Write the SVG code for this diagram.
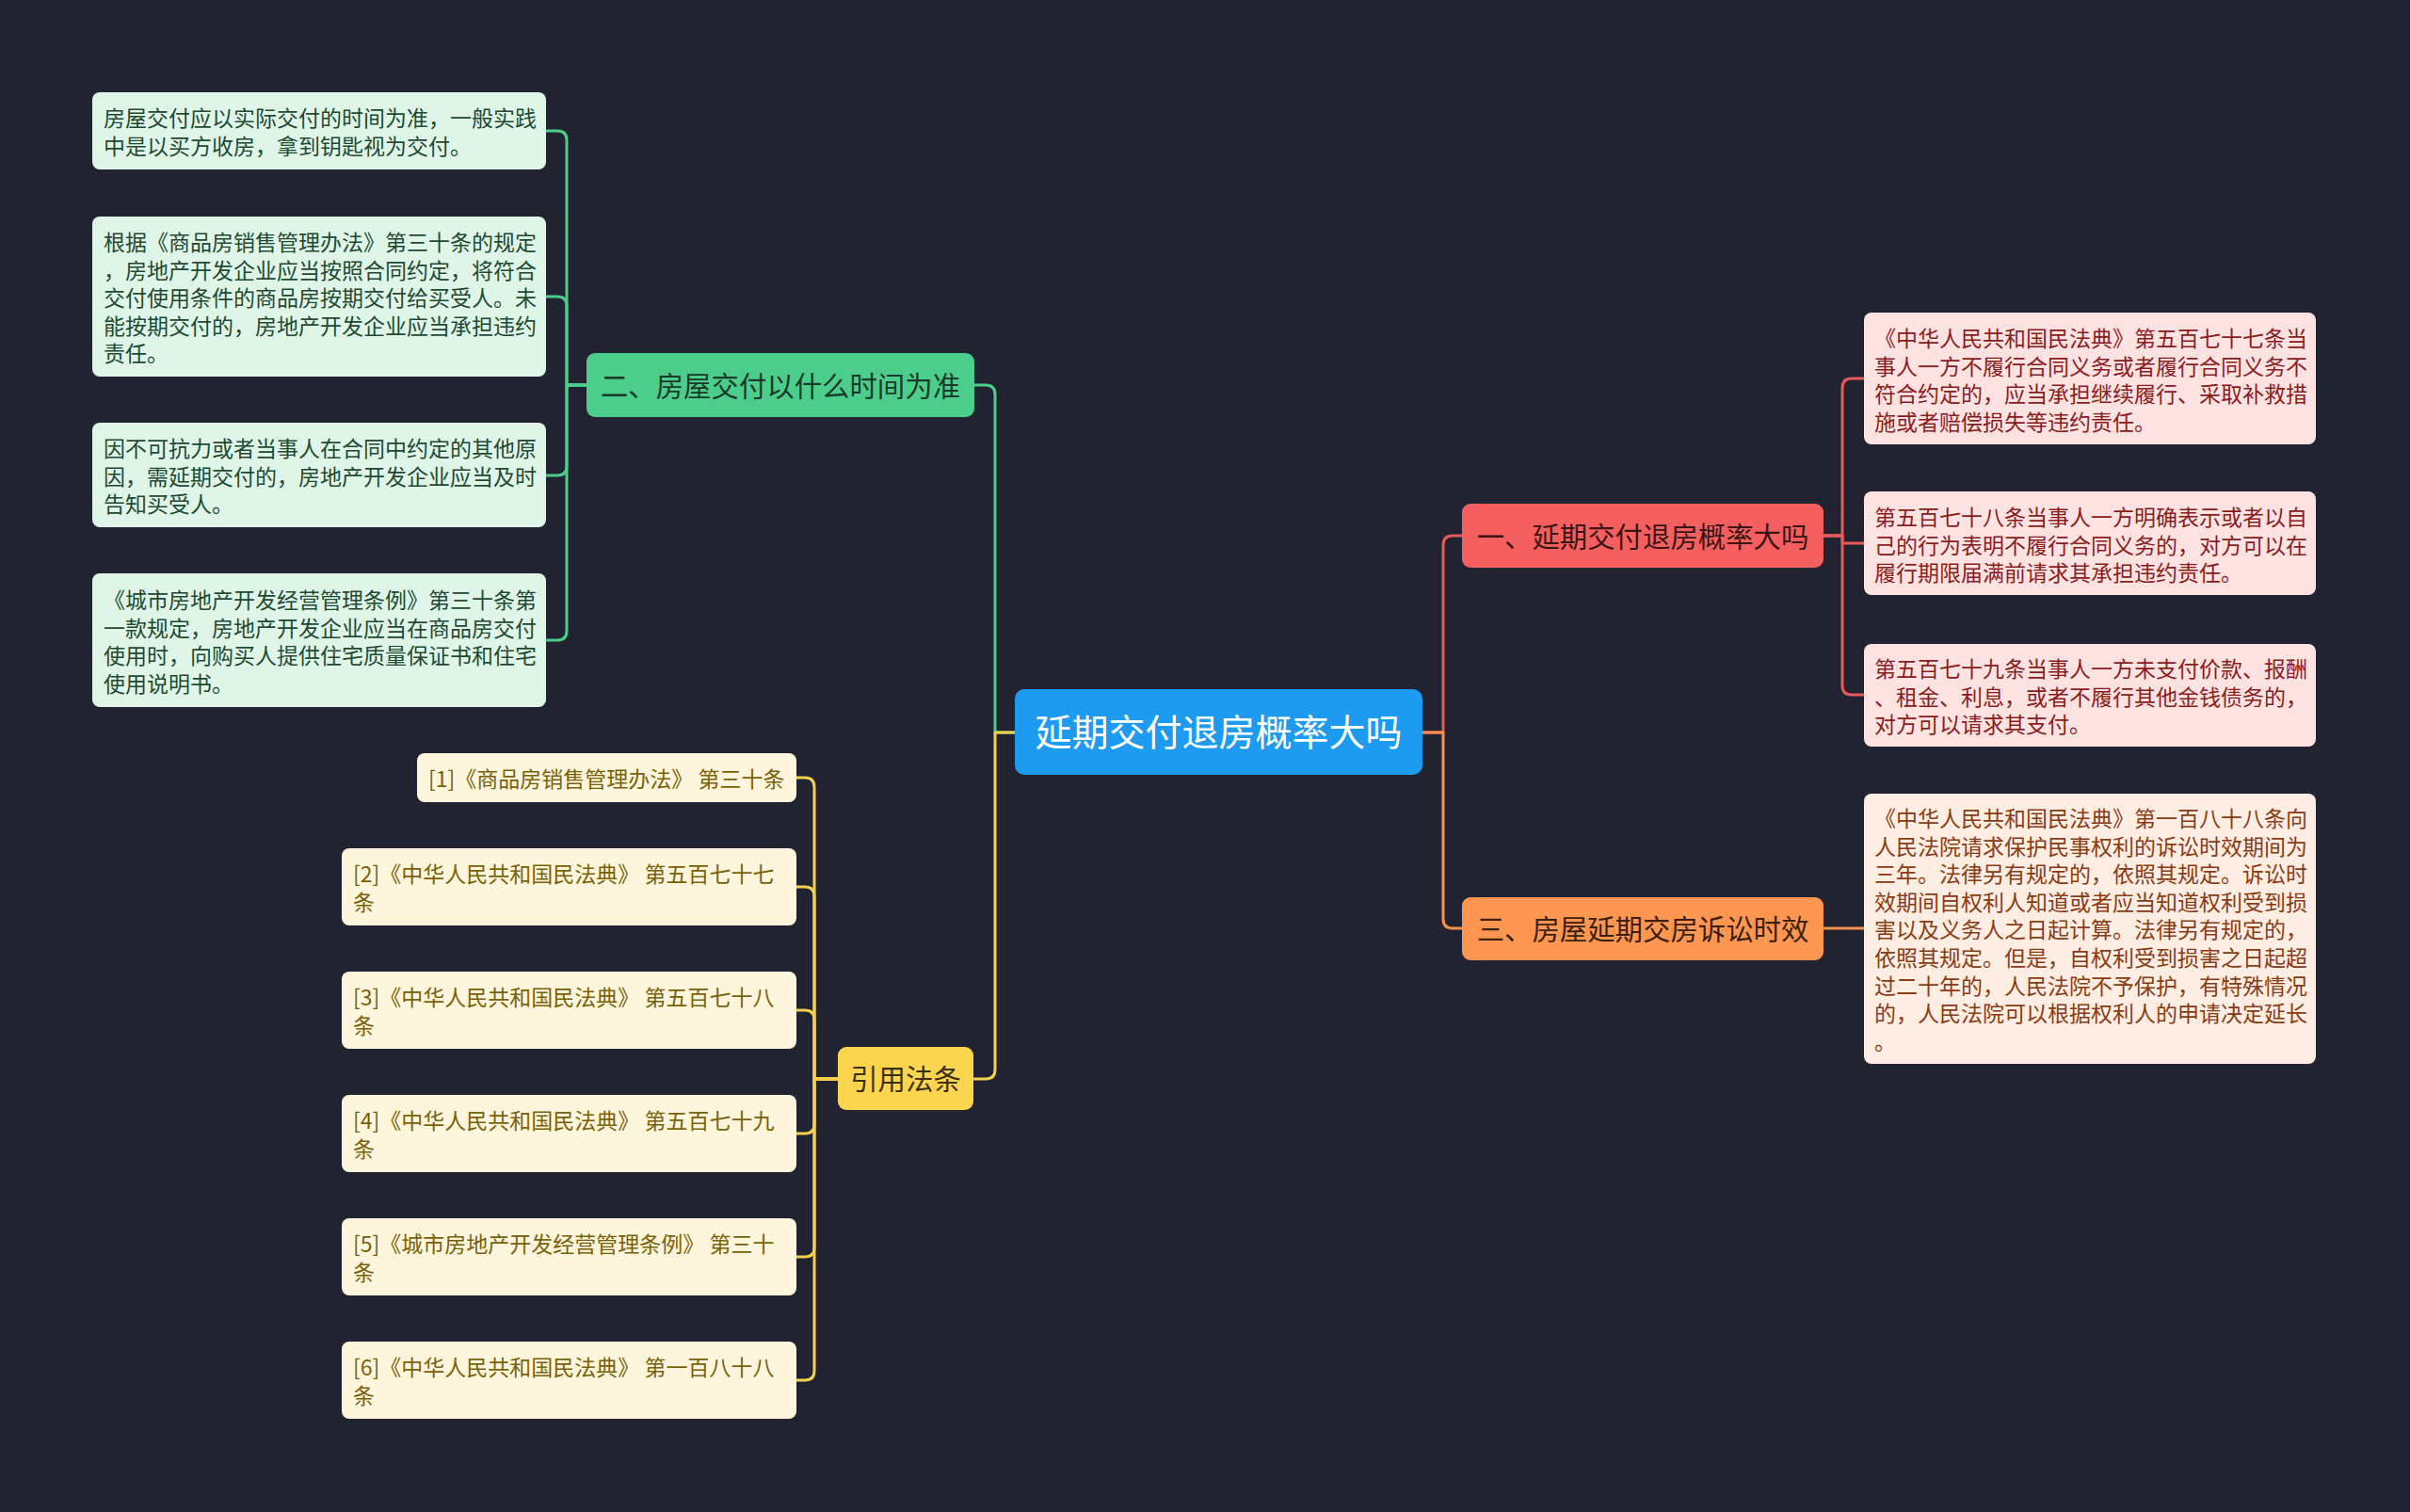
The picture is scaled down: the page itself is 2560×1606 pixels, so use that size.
<svg xmlns="http://www.w3.org/2000/svg" width="2560" height="1606" viewBox="0 0 2560 1606">
<style>
text{font-family:"Noto Sans CJK SC","Noto Sans",sans-serif;}
.leaf{font-size:23px;}
.br{font-size:29.4px;text-anchor:middle;}
.ln{fill:none;stroke-width:3;stroke-linecap:round;stroke-linejoin:round;}
.g{stroke:#4ccd8c;} .y{stroke:#f5d04c;} .r{stroke:#e85a5a;} .o{stroke:#f7924e;}
.gl{fill:#def5e8;} .gt{fill:#1e4a32;}
.rl{fill:#fde2e2;} .rt{fill:#8b1c1c;}
.ol{fill:#fdede2;} .ot{fill:#8a3b12;}
.yl{fill:#fdf6dc;} .yt{fill:#7a6108;}
</style>
<rect width="2560" height="1606" fill="#212430"/>
<g id="connectors">
<path class="ln g" d="M1078 778 H1057 V419 Q1057 409 1047 409 H1035"/>
<path class="ln y" d="M1078 778 H1057 V1136 Q1057 1146 1047 1146 H1034"/>
<path class="ln r" d="M1511 778 H1533 V579 Q1533 569 1543 569 H1553"/>
<path class="ln o" d="M1511 778 H1533 V976 Q1533 986 1543 986 H1553"/>
<path class="ln g" d="M623 409 H602 V149 Q602 139 592 139 H580"/>
<path class="ln g" d="M623 409 H602 V325 Q602 315 592 315 H580"/>
<path class="ln g" d="M623 409 H602 V495 Q602 505 592 505 H580"/>
<path class="ln g" d="M623 409 H602 V670 Q602 680 592 680 H580"/>
<path class="ln r" d="M1937 569 H1957 V412 Q1957 402 1967 402 H1980"/>
<path class="ln r" d="M1937 569 H1957 V577 H1980"/>
<path class="ln r" d="M1937 569 H1957 V728 Q1957 738 1967 738 H1980"/>
<path class="ln o" d="M1937 986 H1980"/>
<path class="ln y" d="M890 1146 H865 V836 Q865 826 855 826 H846"/>
<path class="ln y" d="M890 1146 H865 V952 Q865 942 855 942 H846"/>
<path class="ln y" d="M890 1146 H865 V1083 Q865 1073 855 1073 H846"/>
<path class="ln y" d="M890 1146 H865 V1194 Q865 1204 855 1204 H846"/>
<path class="ln y" d="M890 1146 H865 V1325 Q865 1335 855 1335 H846"/>
<path class="ln y" d="M890 1146 H865 V1456 Q865 1466 855 1466 H846"/>
</g>
<g id="root">
<rect x="1078" y="732" width="433" height="91" rx="10" fill="#1d9bf0"/>
<text x="1294.5" y="792" font-size="39" text-anchor="middle" fill="#ffffff">延期交付退房概率大吗</text>
</g>
<g id="b1">
<rect x="1553" y="535" width="384" height="68" rx="9" fill="#f55f5f"/>
<text class="br" x="1745" y="581" fill="#3b1414">一、延期交付退房概率大吗</text>
</g>
<g id="b2">
<rect x="623" y="375" width="412" height="68" rx="9" fill="#4ccd8c"/>
<text class="br" x="829" y="421" fill="#183a28">二、房屋交付以什么时间为准</text>
</g>
<g id="b3">
<rect x="1553" y="953" width="384" height="67" rx="9" fill="#fd9650"/>
<text class="br" x="1745" y="998" fill="#3b2010">三、房屋延期交房诉讼时效</text>
</g>
<g id="b4">
<rect x="890" y="1112" width="144" height="67" rx="9" fill="#fcd54f"/>
<text class="br" x="962" y="1157" fill="#3a3010">引用法条</text>
</g>
<g id="g1">
<rect class="gl" x="98" y="98" width="482" height="82" rx="8"/>
<text class="leaf gt" x="110" y="134"><tspan x="110">房屋交付应以实际交付的时间为准，一般实践</tspan><tspan x="110" dy="29.6">中是以买方收房，拿到钥匙视为交付。</tspan></text>
</g>
<g id="g2">
<rect class="gl" x="98" y="230" width="482" height="170" rx="8"/>
<text class="leaf gt" x="110" y="266"><tspan x="110">根据《商品房销售管理办法》第三十条的规定</tspan><tspan x="110" dy="29.6">，房地产开发企业应当按照合同约定，将符合</tspan><tspan x="110" dy="29.6">交付使用条件的商品房按期交付给买受人。未</tspan><tspan x="110" dy="29.6">能按期交付的，房地产开发企业应当承担违约</tspan><tspan x="110" dy="29.6">责任。</tspan></text>
</g>
<g id="g3">
<rect class="gl" x="98" y="449" width="482" height="111" rx="8"/>
<text class="leaf gt" x="110" y="485"><tspan x="110">因不可抗力或者当事人在合同中约定的其他原</tspan><tspan x="110" dy="29.6">因，需延期交付的，房地产开发企业应当及时</tspan><tspan x="110" dy="29.6">告知买受人。</tspan></text>
</g>
<g id="g4">
<rect class="gl" x="98" y="609" width="482" height="142" rx="8"/>
<text class="leaf gt" x="110" y="646"><tspan x="110">《城市房地产开发经营管理条例》第三十条第</tspan><tspan x="110" dy="29.6">一款规定，房地产开发企业应当在商品房交付</tspan><tspan x="110" dy="29.6">使用时，向购买人提供住宅质量保证书和住宅</tspan><tspan x="110" dy="29.6">使用说明书。</tspan></text>
</g>
<g id="r1">
<rect class="rl" x="1980" y="332" width="480" height="140" rx="8"/>
<text class="leaf rt" x="1991" y="368"><tspan x="1991">《中华人民共和国民法典》第五百七十七条当</tspan><tspan x="1991" dy="29.6">事人一方不履行合同义务或者履行合同义务不</tspan><tspan x="1991" dy="29.6">符合约定的，应当承担继续履行、采取补救措</tspan><tspan x="1991" dy="29.6">施或者赔偿损失等违约责任。</tspan></text>
</g>
<g id="r2">
<rect class="rl" x="1980" y="522" width="480" height="110" rx="8"/>
<text class="leaf rt" x="1991" y="558"><tspan x="1991">第五百七十八条当事人一方明确表示或者以自</tspan><tspan x="1991" dy="29.6">己的行为表明不履行合同义务的，对方可以在</tspan><tspan x="1991" dy="29.6">履行期限届满前请求其承担违约责任。</tspan></text>
</g>
<g id="r3">
<rect class="rl" x="1980" y="684" width="480" height="109" rx="8"/>
<text class="leaf rt" x="1991" y="719"><tspan x="1991">第五百七十九条当事人一方未支付价款、报酬</tspan><tspan x="1991" dy="29.6">、租金、利息，或者不履行其他金钱债务的，</tspan><tspan x="1991" dy="29.6">对方可以请求其支付。</tspan></text>
</g>
<g id="o1">
<rect class="ol" x="1980" y="843" width="480" height="287" rx="8"/>
<text class="leaf ot" x="1991" y="878"><tspan x="1991">《中华人民共和国民法典》第一百八十八条向</tspan><tspan x="1991" dy="29.6">人民法院请求保护民事权利的诉讼时效期间为</tspan><tspan x="1991" dy="29.6">三年。法律另有规定的，依照其规定。诉讼时</tspan><tspan x="1991" dy="29.6">效期间自权利人知道或者应当知道权利受到损</tspan><tspan x="1991" dy="29.6">害以及义务人之日起计算。法律另有规定的，</tspan><tspan x="1991" dy="29.6">依照其规定。但是，自权利受到损害之日起超</tspan><tspan x="1991" dy="29.6">过二十年的，人民法院不予保护，有特殊情况</tspan><tspan x="1991" dy="29.6">的，人民法院可以根据权利人的申请决定延长</tspan><tspan x="1991" dy="29.6">。</tspan></text>
</g>
<g id="y1">
<rect class="yl" x="443" y="800" width="403" height="52" rx="8"/>
<text class="leaf yt" x="455" y="836">[1]《商品房销售管理办法》 第三十条</text>
</g>
<g id="y2">
<rect class="yl" x="363" y="901" width="483" height="82" rx="8"/>
<text class="leaf yt" x="375" y="937"><tspan x="375">[2]《中华人民共和国民法典》 第五百七十七</tspan><tspan x="375" dy="29.6">条</tspan></text>
</g>
<g id="y3">
<rect class="yl" x="363" y="1032" width="483" height="82" rx="8"/>
<text class="leaf yt" x="375" y="1068"><tspan x="375">[3]《中华人民共和国民法典》 第五百七十八</tspan><tspan x="375" dy="29.6">条</tspan></text>
</g>
<g id="y4">
<rect class="yl" x="363" y="1163" width="483" height="82" rx="8"/>
<text class="leaf yt" x="375" y="1199"><tspan x="375">[4]《中华人民共和国民法典》 第五百七十九</tspan><tspan x="375" dy="29.6">条</tspan></text>
</g>
<g id="y5">
<rect class="yl" x="363" y="1294" width="483" height="82" rx="8"/>
<text class="leaf yt" x="375" y="1330"><tspan x="375">[5]《城市房地产开发经营管理条例》 第三十</tspan><tspan x="375" dy="29.6">条</tspan></text>
</g>
<g id="y6">
<rect class="yl" x="363" y="1425" width="483" height="82" rx="8"/>
<text class="leaf yt" x="375" y="1461"><tspan x="375">[6]《中华人民共和国民法典》 第一百八十八</tspan><tspan x="375" dy="29.6">条</tspan></text>
</g>
</svg>
